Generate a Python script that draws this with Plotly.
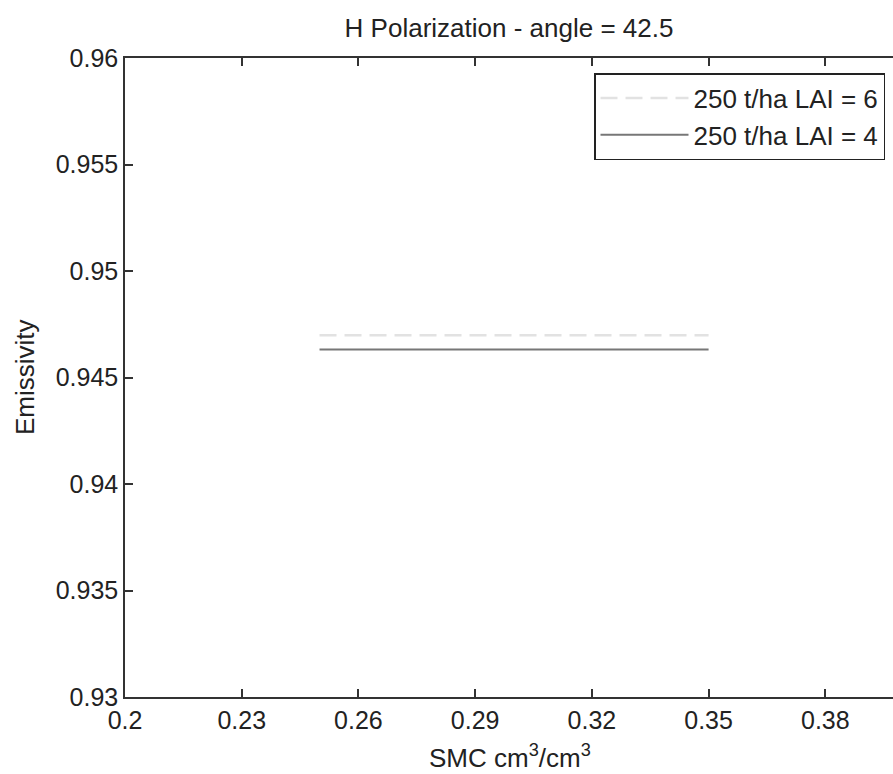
import plotly.graph_objects as go

# Soil moisture content (cm^3/cm^3) and emissivity for each vegetation case
smc = [0.25, 0.275, 0.30, 0.325, 0.35]
emis_lai6 = [0.94698, 0.94698, 0.94698, 0.94698, 0.94698]
emis_lai4 = [0.94632, 0.94632, 0.94632, 0.94632, 0.94632]

series_names = ["250 t/ha LAI = 6", "250 t/ha LAI = 4"]

x_ticks = [0.2, 0.23, 0.26, 0.29, 0.32, 0.35, 0.38]
x_tick_labels = ["0.2", "0.23", "0.26", "0.29", "0.32", "0.35", "0.38"]
y_ticks = [0.93, 0.935, 0.94, 0.945, 0.95, 0.955, 0.96]
y_tick_labels = ["0.93", "0.935", "0.94", "0.945", "0.95", "0.955", "0.96"]

FONT = "Liberation Sans, Arial, sans-serif"
TXT = "#222222"
FS = 25

fig = go.Figure()
fig.add_trace(go.Scatter(
    x=smc, y=emis_lai6, mode="lines", name=series_names[0],
    line=dict(color="#e2e2e2", width=2.5, dash="17px,8px"),
))
fig.add_trace(go.Scatter(
    x=smc, y=emis_lai4, mode="lines", name=series_names[1],
    line=dict(color="#777777", width=2),
))

fig.update_layout(
    width=893, height=774,
    margin=dict(l=125, r=0, t=58, b=77),
    paper_bgcolor="white", plot_bgcolor="white",
    font=dict(family=FONT, size=FS, color=TXT),
    showlegend=True,
    legend=dict(
        x=(885 - 125) / 768, xanchor="right", y=(697 - 73) / 639, yanchor="top",
        bordercolor="#222222", borderwidth=1.5, bgcolor="white",
        font=dict(family=FONT, size=26, color=TXT),
        itemwidth=88, tracegroupgap=0,
    ),
    title=dict(
        text="H Polarization - angle = 42.5",
        x=(125 + 893) / 2 / 893, xanchor="center",
        y=1 - 28 / 774, yanchor="middle", yref="container",
        font=dict(family=FONT, size=26, color=TXT),
    ),
)

axis_common = dict(
    showgrid=False, zeroline=False, showline=True,
    linecolor="#333333", linewidth=1.5,
    ticks="inside", ticklen=8, tickcolor="#333333", tickwidth=1.5,
    tickfont=dict(family=FONT, size=FS, color=TXT),
)
fig.update_xaxes(
    range=[0.2, 0.3974], tickvals=x_ticks, ticktext=x_tick_labels,
    mirror="ticks", **axis_common,
)
fig.update_yaxes(
    range=[0.93, 0.96], tickvals=y_ticks, ticktext=y_tick_labels,
    mirror=False, **axis_common,
)

fig.add_annotation(
    text="SMC cm<sup>3</sup>/cm<sup>3</sup>", xref="paper", yref="paper",
    x=(510 - 125) / 768, y=-(756 - 697) / 639, xanchor="center", yanchor="middle",
    showarrow=False, font=dict(family=FONT, size=26, color=TXT),
)
fig.add_annotation(
    text="Emissivity", xref="paper", yref="paper",
    x=-(125 - 25) / 768, y=(697 - 377) / 639, xanchor="center", yanchor="middle",
    textangle=-90, showarrow=False, font=dict(family=FONT, size=26, color=TXT),
)

fig.write_html("out.html")
